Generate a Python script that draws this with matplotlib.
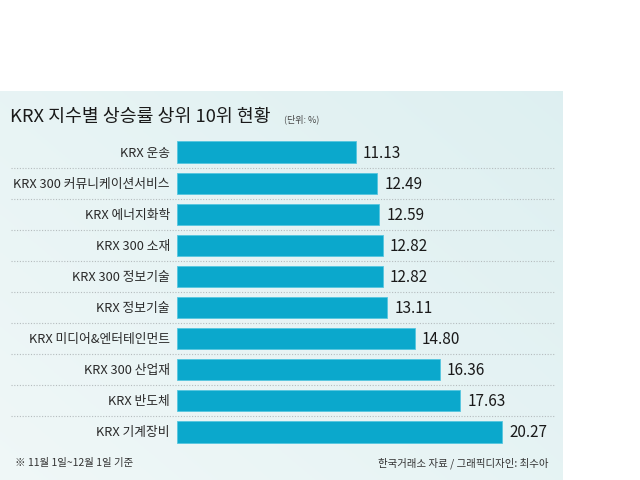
import matplotlib
matplotlib.use("Agg")
import matplotlib.pyplot as plt
import numpy as np

plt.rcParams['font.family'] = ['Noto Sans CJK KR', 'DejaVu Sans']

categories = ["KRX 운송", "KRX 300 커뮤니케이션서비스", "KRX 에너지화학", "KRX 300 소재",
              "KRX 300 정보기술", "KRX 정보기술", "KRX 미디어&엔터테인먼트", "KRX 300 산업재",
              "KRX 반도체", "KRX 기계장비"]
values = [11.13, 12.49, 12.59, 12.82, 12.82, 13.11, 14.80, 16.36, 17.63, 20.27]
value_labels = ["11.13", "12.49", "12.59", "12.82", "12.82", "13.11", "14.80", "16.36", "17.63", "20.27"]
title = "KRX 지수별 상승률 상위 10위 현황"
unit = "(단위: %)"
note = "※ 11월 1일~12월 1일 기준"
source = "한국거래소 자료 / 그래픽디자인: 최수아"

W, H = 640, 481
fig = plt.figure(figsize=(W / 100, H / 100), dpi=100)
fig.patch.set_facecolor("white")

# background panel with soft gradient
bg = fig.add_axes([0, 0, 563 / W, 1 - 92 / H])
bg.set_axis_off()
gx = np.linspace(0, 1, 200)
gy = np.linspace(0, 1, 200)
GX, GY = np.meshgrid(gx, gy)
c1 = np.array([0.94, 0.97, 0.97])
c2 = np.array([0.87, 0.94, 0.945])
t = np.clip(0.55 * GX + 0.45 * GY, 0, 1)[..., None]
img = c1 * (1 - t) + c2 * t
bg.imshow(img, extent=[0, 1, 0, 1], aspect="auto", origin="lower")
bg.set_xlim(0, 1)
bg.set_ylim(0, 1)

# main axes
px_per_unit = 16.05
ax_left_px, ax_right_px = 10, 560
zero_px = 177
xmin = -(zero_px - ax_left_px) / px_per_unit
xmax = (ax_right_px - zero_px) / px_per_unit
top_px, bot_px = 137.5, 448.5
ax = fig.add_axes([ax_left_px / W, 1 - bot_px / H, (ax_right_px - ax_left_px) / W, (bot_px - top_px) / H])
ax.set_axis_off()
ax.patch.set_alpha(0)
n = len(categories)
ypos = np.arange(n)
ax.set_xlim(xmin, xmax)
ax.set_ylim(n - 0.5, -0.5)

for i in range(n - 1):
    ax.hlines(i + 0.5, xmin + 0.05, xmax - 0.35, colors="#b5bcbe", linestyles=(0, (1, 1.5)), linewidth=0.8)

ax.barh(ypos, values, height=0.68, color="#0ba8cc", edgecolor="#55c6df", linewidth=0.6)

for i, (c, v, lab) in enumerate(zip(categories, values, value_labels)):
    ax.text(-0.45, i, c, ha="right", va="center", fontsize=9.2, color="#2a2a2a")
    ax.text(v + 0.45, i, lab, ha="left", va="center", fontsize=11, color="#1a1a1a")

fig.text(10 / W, 1 - 117 / H, title, ha="left", va="center", fontsize=13.2, color="#1a1a1a", fontweight="medium")
fig.text(284 / W, 1 - 119 / H, unit, ha="left", va="center", fontsize=6.5, color="#444444")
fig.text(15 / W, 1 - 463 / H, note, ha="left", va="center", fontsize=7.5, color="#333333")
fig.text(548 / W, 1 - 463 / H, source, ha="right", va="center", fontsize=7.5, color="#333333")

fig.savefig("out.png", dpi=100)
